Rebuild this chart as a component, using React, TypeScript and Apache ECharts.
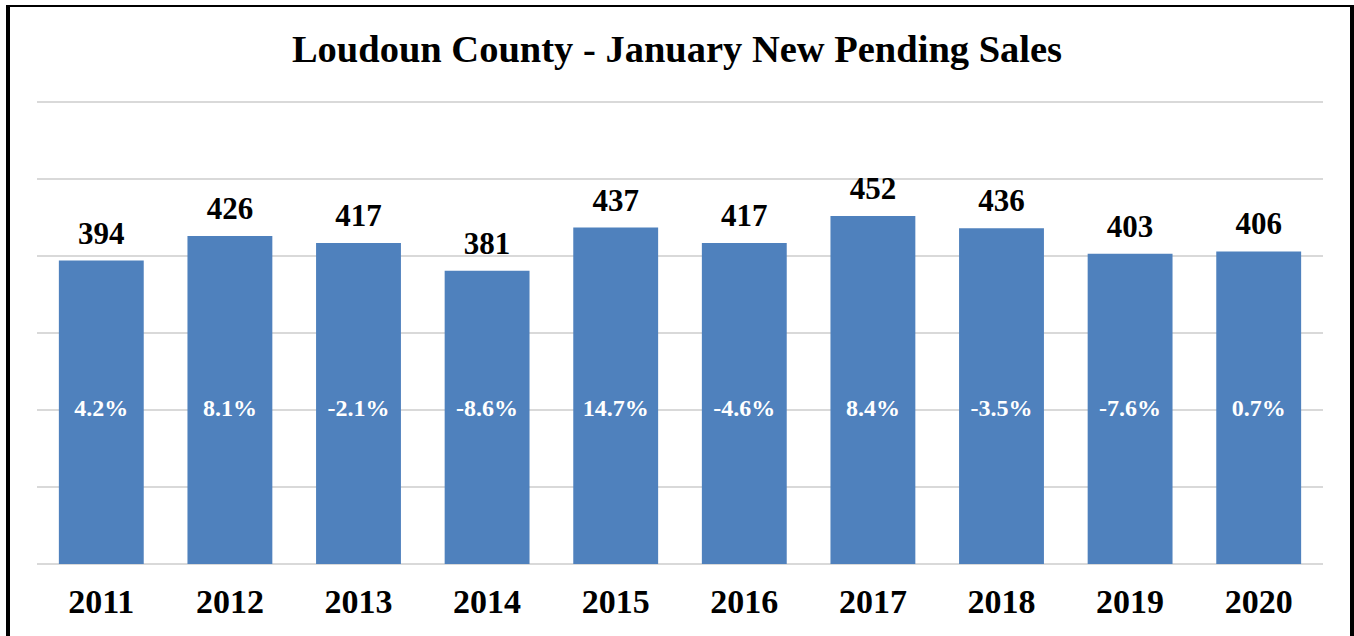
import React, { useEffect, useRef } from "react";
import * as echarts from "echarts";

const years = ["2011", "2012", "2013", "2014", "2015", "2016", "2017", "2018", "2019", "2020"];
const pendingSales = [394, 426, 417, 381, 437, 417, 452, 436, 403, 406];
const yoyChange = ["4.2%", "8.1%", "-2.1%", "-8.6%", "14.7%", "-4.6%", "8.4%", "-3.5%", "-7.6%", "0.7%"];
const titleText = "Loudoun County - January New Pending Sales";

const FONT = "'Liberation Serif', 'Times New Roman', serif";

export default function App() {
  const ref = useRef<HTMLDivElement>(null);
  useEffect(() => {
    if (!ref.current) return;
    const chart = echarts.init(ref.current, undefined, { renderer: "svg" });
    chart.setOption({
      animation: false,
      backgroundColor: "#ffffff",
      title: {
        text: titleText,
        left: "center",
        top: 24,
        textStyle: { fontFamily: FONT, fontWeight: "bold", fontSize: 38.5, color: "#000000" },
      },
      grid: { left: 37, right: 31, top: 102, bottom: 72, containLabel: false },
      xAxis: {
        type: "category",
        data: years,
        axisLine: { show: false },
        axisTick: { show: false },
        axisLabel: { fontFamily: FONT, fontWeight: "bold", fontSize: 34, color: "#000000", margin: 20 },
      },
      yAxis: {
        type: "value",
        min: 0,
        max: 600,
        interval: 100,
        axisLabel: { show: false },
        axisLine: { show: false },
        axisTick: { show: false },
        splitLine: { lineStyle: { color: "#d9d9d9", width: 2 } },
      },
      series: [
        {
          type: "bar",
          data: pendingSales,
          barCategoryGap: "34%",
          itemStyle: { color: "#4f81bd" },
          label: {
            show: true,
            position: "top",
            distance: 12,
            fontFamily: FONT,
            fontWeight: "bold",
            fontSize: 31,
            color: "#000000",
          },
        },
        {
          type: "bar",
          data: pendingSales,
          barGap: "-100%",
          barCategoryGap: "34%",
          itemStyle: { color: "rgba(0,0,0,0)" },
          silent: true,
          label: {
            show: true,
            position: "insideBottom",
            distance: 144,
            fontFamily: FONT,
            fontWeight: "bold",
            fontSize: 24,
            color: "#ffffff",
            formatter: (p: any) => yoyChange[p.dataIndex],
          },
        },
      ],
    });
    return () => chart.dispose();
  }, []);
  return (
    <div style={{ position: "fixed", left: 0, top: 0, width: 1354, height: 636, overflow: "hidden", background: "#fff" }}>
      <div ref={ref} style={{ position: "absolute", left: 0, top: 0, width: 1354, height: 636 }} />
      <div
        style={{
          position: "absolute",
          left: 6,
          top: 5,
          width: 1348,
          height: 700,
          boxSizing: "border-box",
          borderLeft: "4px solid #000",
          borderRight: "4px solid #000",
          borderTop: "2px solid #000",
          pointerEvents: "none",
        }}
      />
    </div>
  );
}
